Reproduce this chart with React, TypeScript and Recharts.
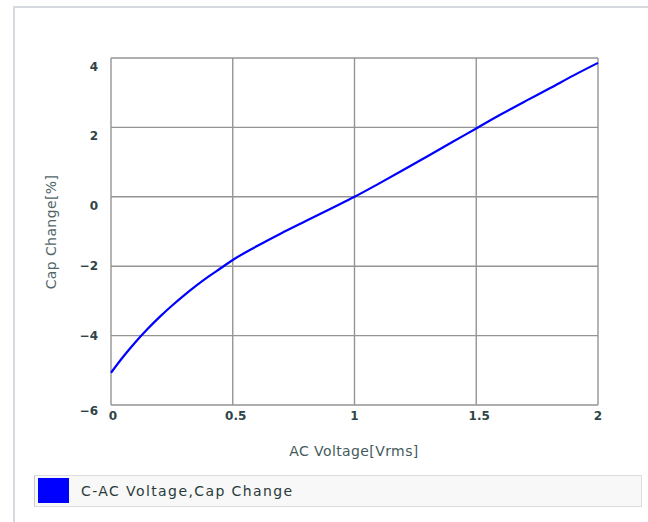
import React from "react";
import { LineChart, Line, XAxis, YAxis, CartesianGrid } from "recharts";

const voltage = [0, 0.05, 0.1, 0.15, 0.2, 0.25, 0.3, 0.35, 0.4, 0.45, 0.5, 0.6, 0.7, 0.8, 0.9, 1.0, 1.1, 1.2, 1.3, 1.4, 1.5, 1.6, 1.7, 1.8, 1.9, 2.0];
const capChange = [-5.07, -4.61, -4.19, -3.81, -3.46, -3.14, -2.84, -2.56, -2.3, -2.06, -1.82, -1.42, -1.05, -0.7, -0.35, 0, 0.38, 0.77, 1.17, 1.57, 1.97, 2.37, 2.75, 3.12, 3.5, 3.86];
const xTicks = [0, 0.5, 1, 1.5, 2];
const yTicks = [-6, -4, -2, 0, 2, 4];
const seriesName = "C-AC Voltage,Cap Change";
const xTitle = "AC Voltage[Vrms]";
const yTitle = "Cap Change[%]";

const data = voltage.map((v, i) => ({ v, c: capChange[i] }));

const tickFont = '"DejaVu Sans", "Liberation Sans", Arial, sans-serif';

const YTick = (props: any) => {
  const { y, payload } = props;
  const val = payload.value;
  let dy = 0;
  if (val >= 0) dy = 9;
  if (val === -6) dy = 6;
  return (
    <text x={98} y={y + dy} textAnchor="end" dominantBaseline="central" fontSize={12} fontWeight="bold" fontFamily={tickFont} fill="#2f4448">
      {val < 0 ? "\u2212" + Math.abs(val) : String(val)}
    </text>
  );
};

const XTick = (props: any) => {
  const { x, payload } = props;
  const val = payload.value;
  return (
    <text x={x + (val === 0 ? 2 : val === 0.5 || val === 1.5 ? 3 : 0)} y={416} textAnchor="middle" dominantBaseline="central" fontSize={12} fontWeight="bold" fontFamily={tickFont} fill="#2f4448">
      {String(val)}
    </text>
  );
};

export default function App() {
  return (
    <div style={{ position: "absolute", left: 0, top: 0, width: 648, height: 522, background: "#fff", overflow: "hidden" }}>
      <div style={{ position: "absolute", left: 13, top: 6, width: 640, height: 1.5, background: "#d6dadf" }} />
      <div style={{ position: "absolute", left: 13, top: 6, width: 1.5, height: 520, background: "#d6dadf" }} />
      <LineChart width={648} height={522} data={data} margin={{ top: 58, right: 50, left: 0, bottom: 0 }} style={{ position: "absolute", left: 0, top: 0 }}>
        <CartesianGrid stroke="#949494" strokeWidth={1.4} />
        <XAxis dataKey="v" type="number" domain={[0, 2]} ticks={xTicks} height={117} tickLine={false} axisLine={false} tick={<XTick />} interval={0} />
        <YAxis type="number" domain={[-6, 4]} ticks={yTicks} width={111} tickLine={false} axisLine={false} tick={<YTick />} interval={0} />
        <Line dataKey="c" type="monotone" stroke="#0000ff" strokeWidth={2.2} dot={false} isAnimationActive={false} />
      </LineChart>
      <div style={{ position: "absolute", left: 214, top: 442, width: 280, textAlign: "center", fontSize: 14, letterSpacing: 0.4, fontFamily: tickFont, color: "#445a5c", lineHeight: "18px" }}>
        {xTitle}
      </div>
      <div style={{ position: "absolute", left: 51 - 100, top: 232 - 9, width: 200, textAlign: "center", fontSize: 14, letterSpacing: 0.4, fontFamily: tickFont, color: "#4f6668", lineHeight: "18px", transform: "rotate(-90deg)" }}>
        {yTitle}
      </div>
      <div style={{ position: "absolute", left: 34, top: 475, width: 608, height: 32, background: "#f8f8f8", border: "1px solid #dcdcdc", borderLeft: "1.5px solid #c8c8c8", boxSizing: "border-box" }}>
        <div style={{ position: "absolute", left: 3, top: 2, width: 31, height: 25, background: "#0000ff" }} />
        <div style={{ position: "absolute", left: 46, top: 6, fontSize: 14, letterSpacing: 1.4, fontFamily: tickFont, color: "#2a3a3a", lineHeight: "18px", whiteSpace: "nowrap" }}>
          {seriesName}
        </div>
      </div>
    </div>
  );
}
